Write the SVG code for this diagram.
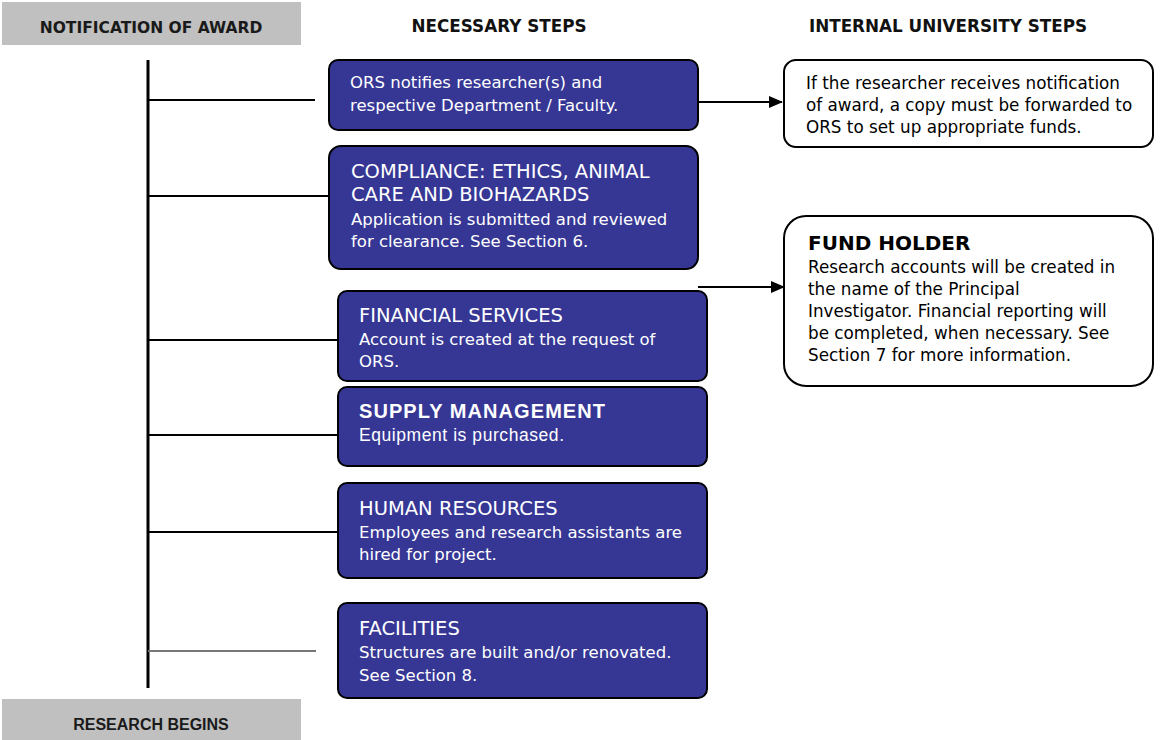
<svg xmlns="http://www.w3.org/2000/svg" width="1165" height="740" viewBox="0 0 1165 740">
<style>
.hdr{fill:#c0c0c0}
.hdrt{font-family:"DejaVu Sans",sans-serif;font-weight:bold;font-size:15.5px;fill:#1a1a1a;text-anchor:middle}
.col{font-family:"DejaVu Sans",sans-serif;font-weight:bold;font-size:16.8px;fill:#111;text-anchor:middle}
.blue{fill:#363795;stroke:#000;stroke-width:2}
.white{fill:#fff;stroke:#000;stroke-width:2}
.bt{font-family:"DejaVu Sans",sans-serif;font-size:16.5px;fill:#fff}
.btt{font-family:"DejaVu Sans",sans-serif;font-size:19.5px;fill:#fff}
.wt{font-family:"DejaVu Sans",sans-serif;font-size:16.8px;fill:#000}
.wtt{font-family:"DejaVu Sans",sans-serif;font-size:20px;font-weight:bold;fill:#000}
.ln{stroke:#000;stroke-width:2;fill:none}
</style>
<defs>
<marker id="arr" markerWidth="14" markerHeight="14" refX="13" refY="7" orient="auto" markerUnits="userSpaceOnUse">
<path d="M0,1 L14,7 L0,13 Z" fill="#000"/>
</marker>
</defs>
<g id="header-notification">
<rect class="hdr" x="2" y="2" width="299" height="43"/>
<text class="hdrt" x="151" y="33">NOTIFICATION OF AWARD</text>
</g>
<g id="header-research">
<rect class="hdr" x="2" y="699" width="299" height="41"/>
<text class="hdrt" x="151" y="730" style="font-family:'Liberation Sans',Arial,sans-serif;font-size:16px">RESEARCH BEGINS</text>
</g>
<text class="col" x="499" y="32">NECESSARY STEPS</text>
<text class="col" x="948" y="32">INTERNAL UNIVERSITY STEPS</text>
<g id="connectors">
<line x1="148" y1="60" x2="148" y2="688" stroke="#000" stroke-width="3"/>
<line class="ln" x1="148" y1="100" x2="315" y2="100"/>
<line class="ln" x1="148" y1="196" x2="328" y2="196"/>
<line class="ln" x1="148" y1="340" x2="338" y2="340"/>
<line class="ln" x1="148" y1="435" x2="338" y2="435"/>
<line class="ln" x1="148" y1="532" x2="338" y2="532"/>
<line x1="148" y1="651" x2="316" y2="651" stroke="#777" stroke-width="2"/>
<line class="ln" x1="699" y1="102" x2="782" y2="102" marker-end="url(#arr)"/>
<line class="ln" x1="698" y1="287" x2="784" y2="287" marker-end="url(#arr)"/>
</g>
<g id="ors-notifies">
<rect class="blue" x="329" y="60" width="369" height="70" rx="9"/>
<text class="bt" x="350" y="88">ORS notifies researcher(s) and</text>
<text class="bt" x="350" y="111">respective Department / Faculty.</text>
</g>
<g id="compliance">
<rect class="blue" x="329" y="146" width="369" height="123" rx="12"/>
<text class="btt" x="351" y="178">COMPLIANCE: ETHICS, ANIMAL</text>
<text class="btt" x="351" y="201">CARE AND BIOHAZARDS</text>
<text class="bt" x="351" y="225">Application is submitted and reviewed</text>
<text class="bt" x="351" y="247">for clearance. See Section 6.</text>
</g>
<g id="financial-services">
<rect class="blue" x="338" y="291" width="369" height="90" rx="9"/>
<text class="btt" x="359" y="322">FINANCIAL SERVICES</text>
<text class="bt" x="359" y="345">Account is created at the request of</text>
<text class="bt" x="359" y="367">ORS.</text>
</g>
<g id="supply-management">
<rect class="blue" x="338" y="387" width="369" height="79" rx="9"/>
<text class="btt" x="359" y="418" style="font-family:'Liberation Sans',Arial,sans-serif;font-weight:bold;font-size:20px" textLength="246" lengthAdjust="spacing">SUPPLY MANAGEMENT</text>
<text class="bt" x="359" y="441" style="font-family:'Liberation Sans',Arial,sans-serif;font-size:17.5px" textLength="205" lengthAdjust="spacing">Equipment is purchased.</text>
</g>
<g id="human-resources">
<rect class="blue" x="338" y="483" width="369" height="95" rx="9"/>
<text class="btt" x="359" y="515">HUMAN RESOURCES</text>
<text class="bt" x="359" y="538">Employees and research assistants are</text>
<text class="bt" x="359" y="560">hired for project.</text>
</g>
<g id="facilities">
<rect class="blue" x="338" y="603" width="369" height="95" rx="9"/>
<text class="btt" x="359" y="635">FACILITIES</text>
<text class="bt" x="359" y="658">Structures are built and/or renovated.</text>
<text class="bt" x="359" y="681">See Section 8.</text>
</g>
<g id="copy-forwarded">
<rect class="white" x="784" y="60" width="369" height="87" rx="12"/>
<text class="wt" x="806" y="89">If the researcher receives notification</text>
<text class="wt" x="806" y="111">of award, a copy must be forwarded to</text>
<text class="wt" x="806" y="133">ORS to set up appropriate funds.</text>
</g>
<g id="fund-holder">
<rect class="white" x="784" y="216" width="369" height="170" rx="22"/>
<text class="wtt" x="808" y="250">FUND HOLDER</text>
<text class="wt" x="808" y="273">Research accounts will be created in</text>
<text class="wt" x="808" y="295">the name of the Principal</text>
<text class="wt" x="808" y="317">Investigator. Financial reporting will</text>
<text class="wt" x="808" y="339">be completed, when necessary. See</text>
<text class="wt" x="808" y="361">Section 7 for more information.</text>
</g>
</svg>
